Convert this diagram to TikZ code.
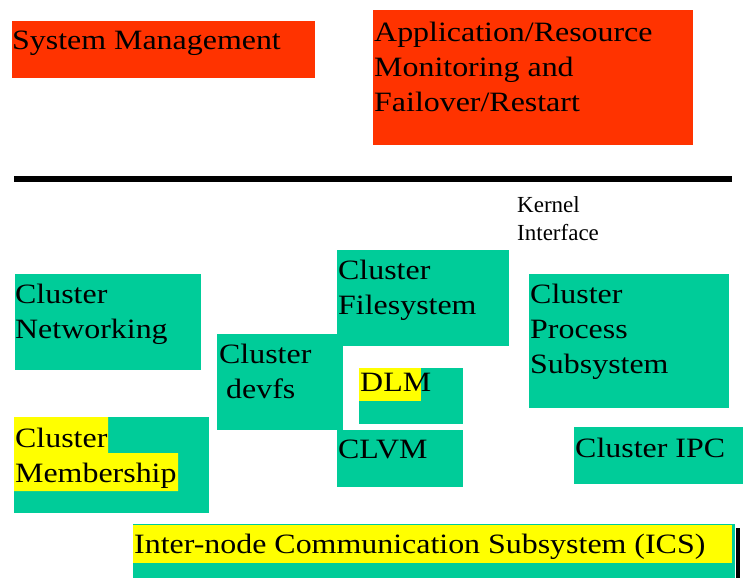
\documentclass[tikz,border=0pt]{standalone}
\usepackage{fontspec}
\setmainfont{Liberation Serif}
\newfontfamily\boxfont[FakeStretch=1.14]{Liberation Serif}
\definecolor{sysred}{HTML}{FF3300}
\definecolor{clteal}{HTML}{00CC99}
\definecolor{hlyellow}{HTML}{FFFF00}
\tikzset{
  redbox/.style={fill=sysred},
  tealbox/.style={fill=clteal},
  hilite/.style={fill=hlyellow},
  lbl/.style={anchor=base west, inner sep=0pt, align=left, font=\boxfont\fontsize{28}{35}\selectfont},
  smalllbl/.style={anchor=base west, inner sep=0pt, align=left, font=\fontsize{23}{28}\selectfont}
}

\begin{document}
\begin{tikzpicture}[x=1pt,y=-1pt]
			\useasboundingbox (0,0) rectangle (743,578);
			%%%%% START %%%%%
			\fill[redbox] (12,21) rectangle (315,78);
			\node[lbl] (sysmgmt) at (12,49) {System Management};
			
			\fill[redbox] (373,10) rectangle (693,145);
			\node[lbl] (appmon) at (374,111) {Application/Resource\\Monitoring and\\Failover/Restart};
			
			\fill[black] (14,176) rectangle (732,182);
			\node[smalllbl] (kernel) at (517,240) {Kernel\\Interface};
			
			\fill[tealbox] (15,274) rectangle (201,370);
			\node[lbl] (net) at (15,338) {Cluster\\Networking};
			
			\fill[tealbox] (217,334) rectangle (343,430);
			\node[lbl] (devfs) at (219,398) {Cluster\\\hspace{0.25em}devfs};
			
			\fill[tealbox] (337,250) rectangle (509,346);
			\node[lbl] (fs) at (338,314) {Cluster\\Filesystem};
			
			\fill[tealbox] (359,368) rectangle (463,424);
			\fill[hilite] (359,368) rectangle (421,401);
			\node[lbl] (dlm) at (360,391) {DLM};
			
			\fill[tealbox] (337,430) rectangle (463,487);
			\node[lbl] (clvm) at (338,458) {CLVM};
			
			\fill[tealbox] (529,274) rectangle (729,408);
			\node[lbl] (proc) at (530,373) {Cluster\\Process\\Subsystem};
			
			\fill[tealbox] (574,427) rectangle (743,484);
			\node[lbl] (ipc) at (575,457) {Cluster IPC};
			
			\fill[tealbox] (14,417) rectangle (209,513);
			\fill[hilite] (14,417) rectangle (108,453) (14,453) rectangle (178,491);
			\node[lbl] (member) at (15,482) {Cluster\\Membership};
			
			\fill[tealbox] (133,524) rectangle (735,578);
			\fill[hilite] (133,525) rectangle (732,563);
			\node[lbl] (ics) at (134,553) {Inter-node Communication Subsystem (ICS)};
			\fill[black] (736,528) rectangle (740,578);
			%%%%% END %%%%%
\end{tikzpicture}
\end{document}
